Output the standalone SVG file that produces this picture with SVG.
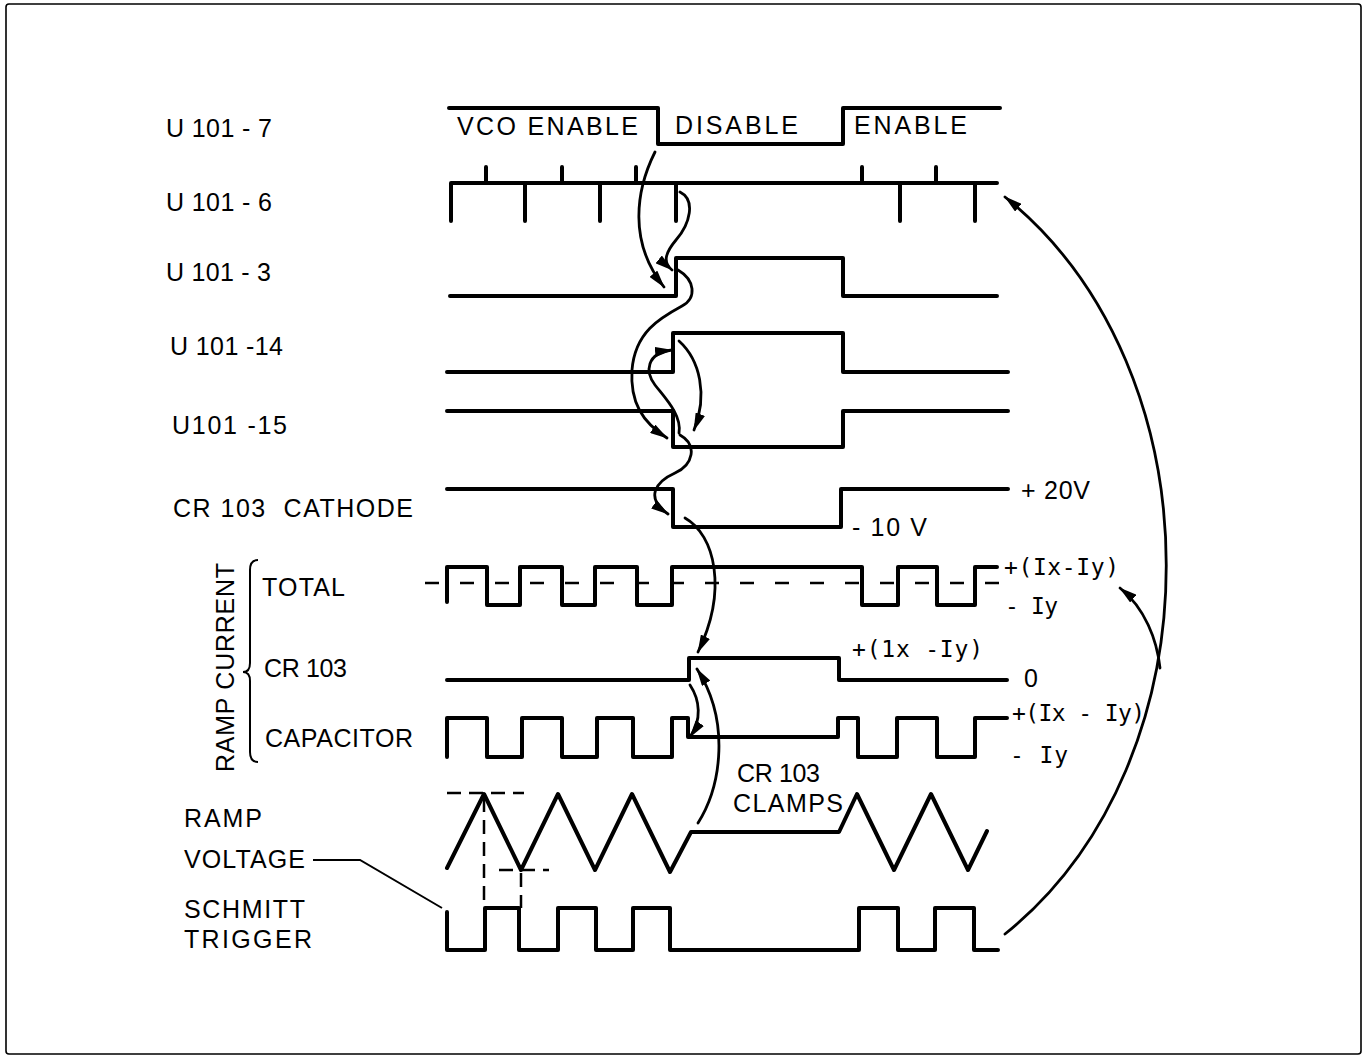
<svg xmlns="http://www.w3.org/2000/svg" width="1366" height="1057" viewBox="0 0 1366 1057">
<style>
.wf{fill:none;stroke:#000;stroke-width:4;stroke-linejoin:round;stroke-linecap:round}
.tk{fill:none;stroke:#000;stroke-width:4;stroke-linecap:round}
.ds{fill:none;stroke:#000;stroke-width:2.5}
.ar{fill:none;stroke:#000;stroke-width:2.8;stroke-linecap:round;marker-end:url(#ah)}
.thin{fill:none;stroke:#000;stroke-width:2}
.lbl{font-family:"Liberation Sans",Arial,sans-serif;font-size:25px;fill:#000}
.mono{font-family:"DejaVu Sans Mono","Liberation Mono",monospace;font-size:23px;fill:#000}
</style>
<defs>
<marker id="ah" viewBox="0 0 18 10" refX="17" refY="5" markerWidth="18" markerHeight="10" orient="auto" markerUnits="userSpaceOnUse">
<path d="M0,0 L18,5 L0,10 z" fill="#000"/>
</marker>
</defs>
<rect x="0" y="0" width="1366" height="1057" fill="#fff"/>
<rect x="6" y="4" width="1355" height="1050" rx="3" fill="none" stroke="#000" stroke-width="1.6"/>

<g id="labels">
<text class="lbl" x="166" y="137" textLength="106" lengthAdjust="spacing">U 101 - 7</text>
<text class="lbl" x="166" y="211" textLength="106" lengthAdjust="spacing">U 101 - 6</text>
<text class="lbl" x="166" y="281" textLength="105" lengthAdjust="spacing">U 101 - 3</text>
<text class="lbl" x="170" y="355" textLength="113" lengthAdjust="spacing">U 101 -14</text>
<text class="lbl" x="172" y="434" textLength="115" lengthAdjust="spacing">U101 -15</text>
<text class="lbl" x="173" y="517" textLength="240" lengthAdjust="spacing">CR 103&#160; CATHODE</text>
<text class="lbl" transform="translate(234,772) rotate(-90)" x="0" y="0" textLength="209" lengthAdjust="spacing">RAMP CURRENT</text>
<text class="lbl" x="262" y="596" textLength="83" lengthAdjust="spacing">TOTAL</text>
<text class="lbl" x="264" y="677" textLength="83" lengthAdjust="spacing">CR 103</text>
<text class="lbl" x="265" y="747" textLength="148" lengthAdjust="spacing">CAPACITOR</text>
<text class="lbl" x="184" y="827" textLength="78" lengthAdjust="spacing">RAMP</text>
<text class="lbl" x="184" y="868" textLength="121" lengthAdjust="spacing">VOLTAGE</text>
<text class="lbl" x="184" y="918" textLength="121" lengthAdjust="spacing">SCHMITT</text>
<text class="lbl" x="184" y="948" textLength="128" lengthAdjust="spacing">TRIGGER</text>
<path class="thin" d="M258,560 Q250,560 250,570 L250,663 Q250,672 243,672 Q250,672 250,681 L250,752 Q250,762 258,762"/>
</g>

<g id="u101-7">
<path class="wf" d="M449,108 H658 V144 H843 V108 H1000"/>
<text class="lbl" x="457" y="135" textLength="181" lengthAdjust="spacing">VCO ENABLE</text>
<text class="lbl" x="675" y="134" textLength="123" lengthAdjust="spacing">DISABLE</text>
<text class="lbl" x="854" y="134" textLength="113" lengthAdjust="spacing">ENABLE</text>
</g>

<g id="u101-6">
<path class="wf" d="M451,221 V183 H997"/>
<path class="tk" d="M525,183 V221 M600,183 V221 M676,183 V221 M900,183 V221 M975,183 V221 M486,183 V167 M562,183 V167 M636,183 V167 M862,183 V167 M936,183 V167"/>
</g>

<g id="u101-3">
<path class="wf" d="M450,296 H676 V258 H843 V296 H997"/>
</g>

<g id="u101-14">
<path class="wf" d="M447,372 H673 V333 H843 V372 H1008"/>
</g>

<g id="u101-15">
<path class="wf" d="M447,411 H673 V447 H843 V411 H1008"/>
</g>

<g id="cr103-cathode">
<path class="wf" d="M447,489 H673 V527 H841 V489 H1008"/>
<text class="lbl" x="1021" y="499" textLength="69" lengthAdjust="spacing">+ 20V</text>
<text class="lbl" x="852" y="536" textLength="75" lengthAdjust="spacing">- 10 V</text>
</g>

<g id="ramp-total">
<path class="ds" d="M425,583 H1015" stroke-dasharray="14 21"/>
<path class="wf" d="M447,602 V567 H487 V605 H520 V567 H562 V605 H595 V567 H637 V605 H672 V567 H862 V605 H898 V567 H937 V605 H975 V567 H997"/>
<text class="mono" x="1004" y="575" textLength="115" lengthAdjust="spacing">+(Ix-Iy)</text>
<text class="mono" x="1005" y="614" textLength="53" lengthAdjust="spacing">- Iy</text>
</g>

<g id="ramp-cr103">
<path class="wf" d="M447,680 H689 V658 H839 V680 H1007"/>
<text class="mono" x="852" y="657" textLength="131" lengthAdjust="spacing">+(1x -Iy)</text>
<text class="lbl" x="1024" y="687">0</text>
</g>

<g id="ramp-capacitor">
<path class="wf" d="M447,757 V718 H487 V757 H522 V718 H562 V757 H597 V718 H633 V757 H672 V718 H688 V737 H838 V718 H858 V757 H897 V718 H937 V757 H975 V718 H1007"/>
<text class="mono" x="1012" y="721" textLength="133" lengthAdjust="spacing">+(Ix - Iy)</text>
<text class="mono" x="1010" y="763" textLength="58" lengthAdjust="spacing">- Iy</text>
<text class="lbl" x="737" y="782" textLength="83" lengthAdjust="spacing">CR 103</text>
<text class="lbl" x="733" y="812" textLength="110" lengthAdjust="spacing">CLAMPS</text>
</g>

<g id="ramp-voltage">
<path class="wf" d="M447,868 L484,794 L521,870 L558,794 L595,870 L632,794 L670,872 L691,832 L839,832 L857,794 L894,870 L931,794 L968,870 L987,831"/>
<path class="ds" d="M447,793 H524 M499,870 H549" stroke-dasharray="14 8"/>
<path class="ds" d="M484,798 V905 M521,873 V908" stroke-dasharray="14 8"/>
</g>

<g id="schmitt-trigger">
<path class="wf" d="M447,912 V950 H485 V908 H519 V950 H558 V908 H596 V950 H633 V908 H670 V950 H859 V908 H898 V950 H935 V908 H974 V950 H998"/>
<path class="thin" d="M313,860 H360 L442,908" stroke-width="1.6"/>
</g>

<g id="connectors">
<path class="ar" d="M655,152 C636,190 628,242 664,287"/>
<path class="ar" d="M680,192 C696,200 690,224 676,240 C666,252 662,262 672,270"/>
<path class="ar" d="M678,270 C695,280 697,298 682,306 C660,318 635,332 632,370 C630,402 642,422 667,438"/>
<path class="ar" d="M679,433 C682,415 665,398 655,385 C645,372 646,353 672,350"/>
<path class="ar" d="M679,341 C700,360 708,395 694,430"/>
<path class="ar" d="M680,435 C698,445 693,465 675,473 C655,482 645,498 668,514"/>
<path class="ar" d="M685,518 C715,535 728,590 698,652"/>
<path class="ar" d="M690,685 C700,700 702,720 690,737"/>
<path class="ar" d="M698,823 C722,785 730,720 697,669"/>
<path class="ar" d="M1005,934 C1220,761 1220,370 1005,197" stroke-width="2.5"/>
<path class="ar" d="M1160,668 C1157,640 1145,608 1120,588" stroke-width="1.6"/>
</g>
</svg>
